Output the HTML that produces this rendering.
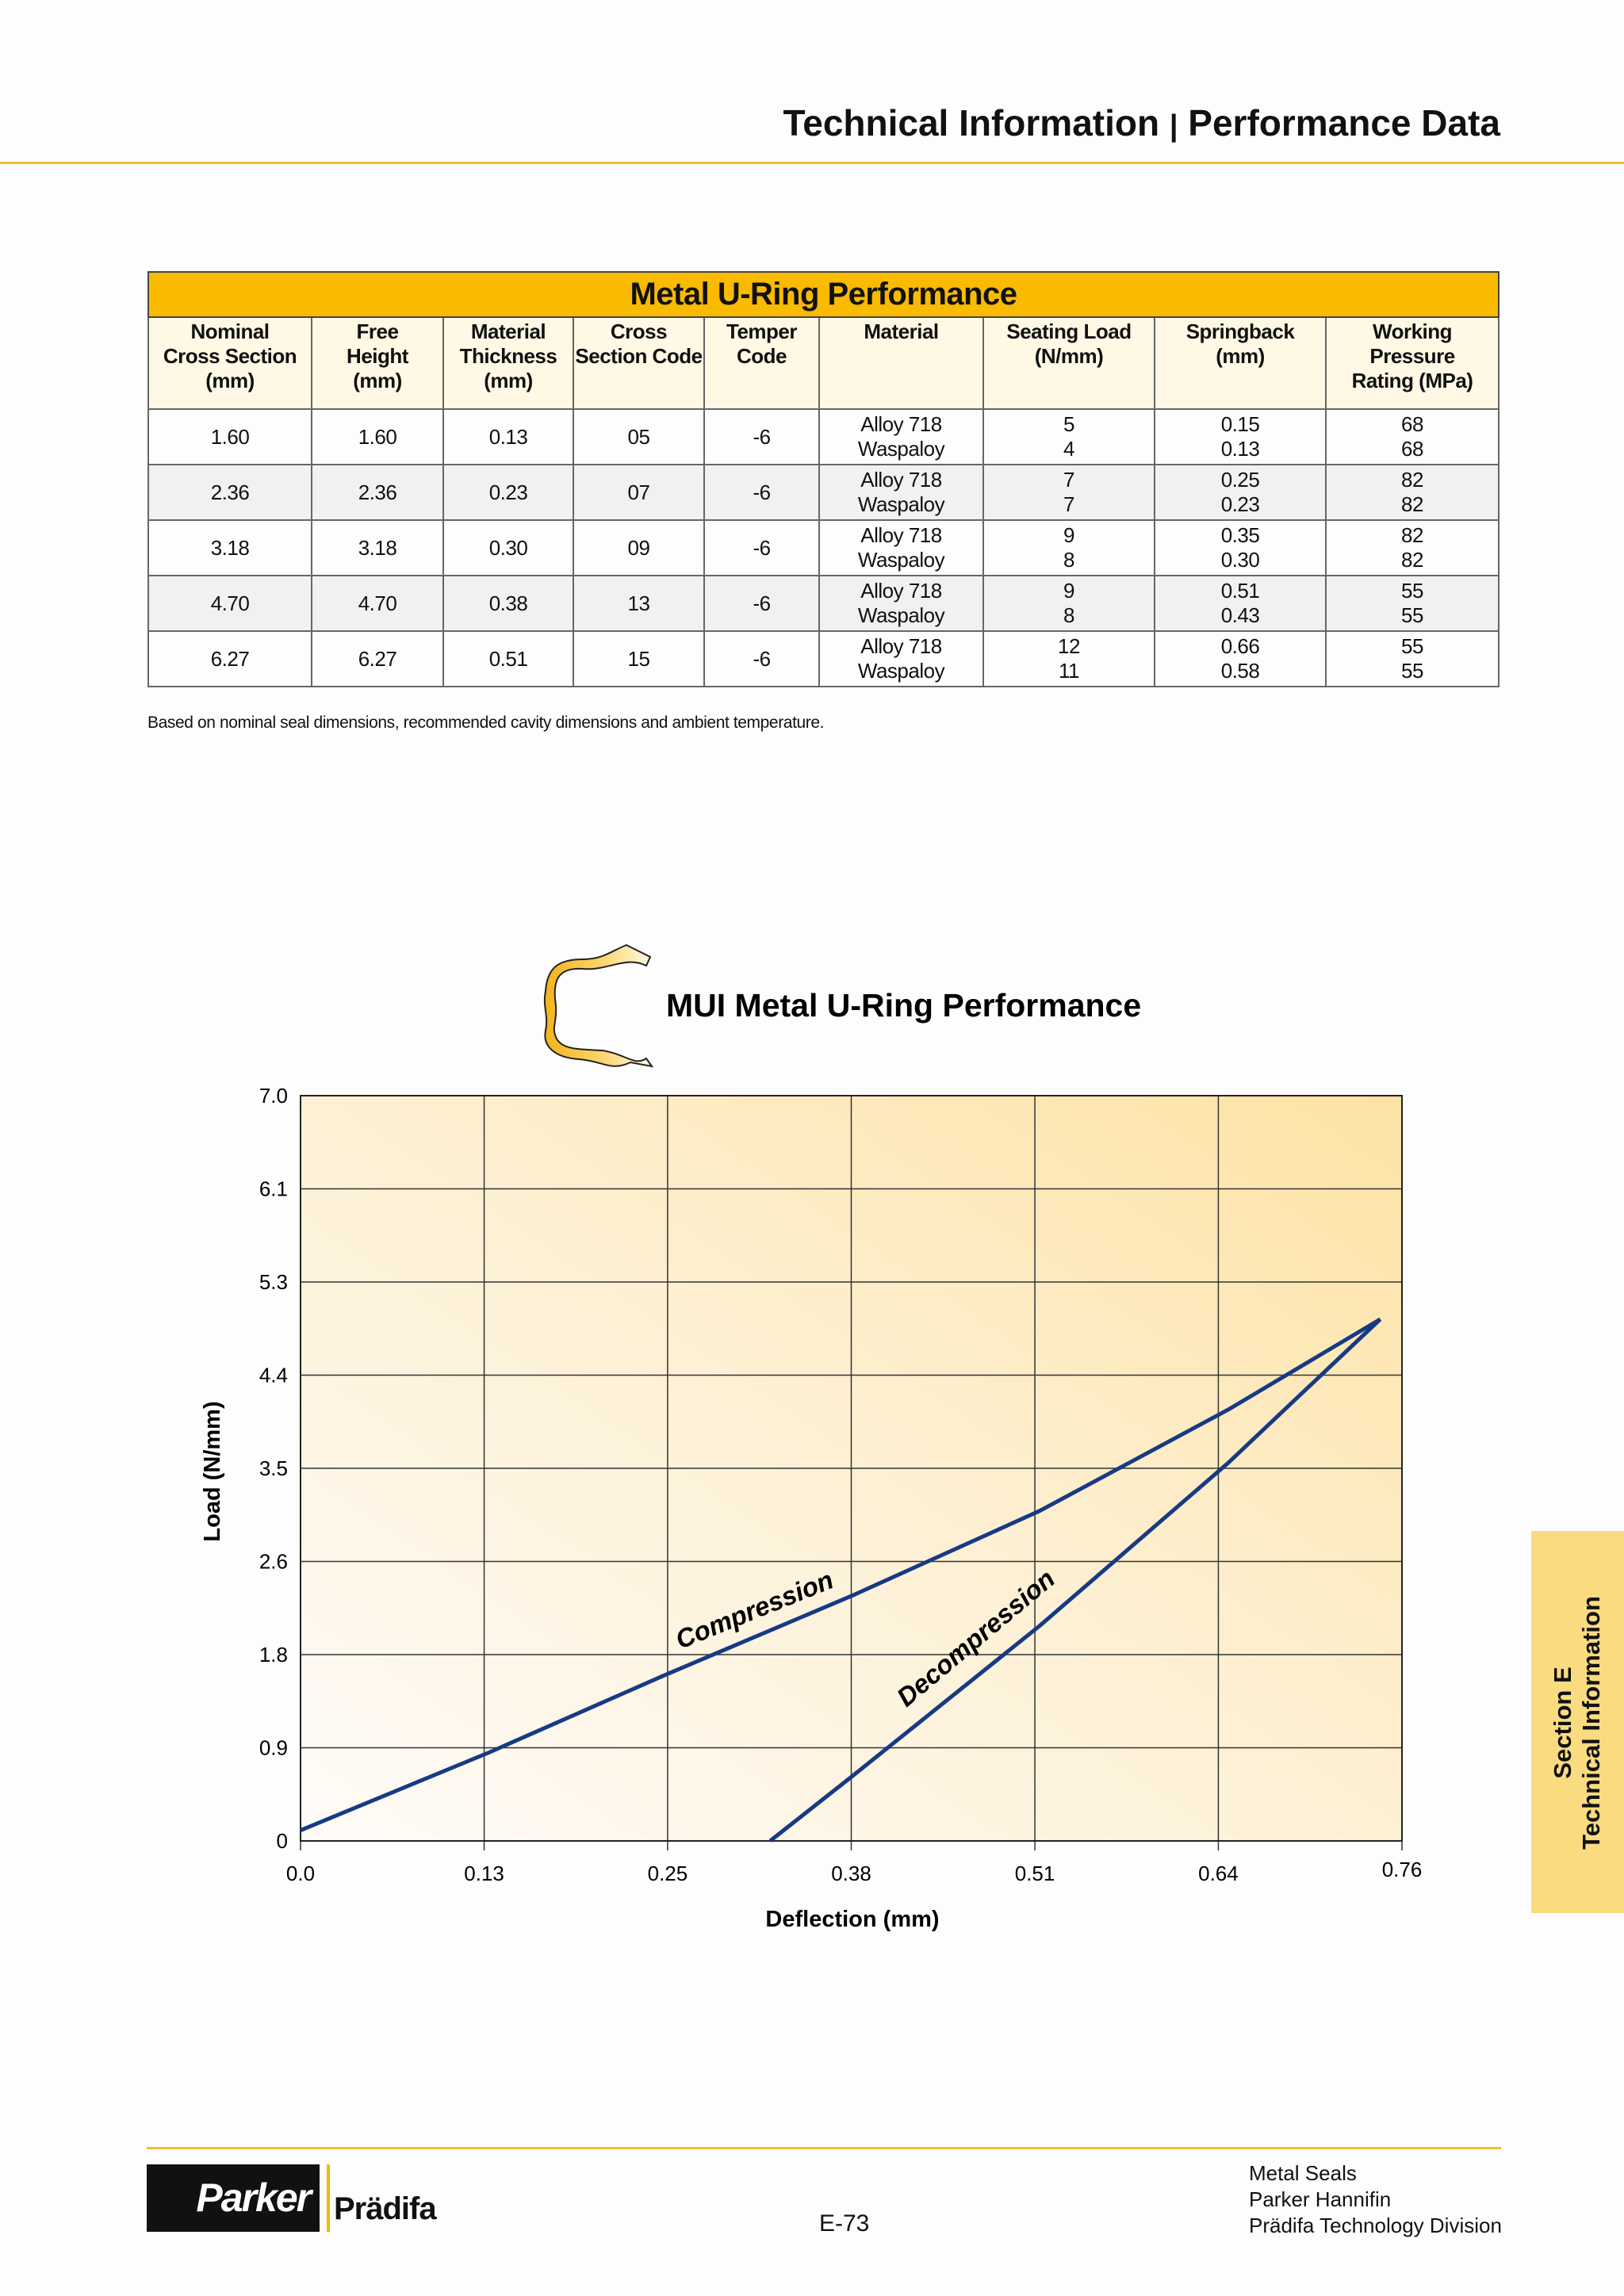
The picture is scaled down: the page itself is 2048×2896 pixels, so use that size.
<!DOCTYPE html>
<html><head><meta charset="utf-8">
<style>
html,body{margin:0;padding:0}
body{width:2048px;height:2896px;position:relative;background:#fdfdfd;font-family:"Liberation Sans",sans-serif;overflow:hidden;color:#111}
.abs{position:absolute}
table{border-collapse:collapse;position:absolute;left:186px;top:342px;width:1703px;table-layout:fixed}
td,th{border:2px solid #666;text-align:center;font-size:26px;padding:0;line-height:31px;letter-spacing:-0.5px}
th{font-weight:bold;vertical-align:top;background:#fff8e4;padding-top:2px;height:112px}
.title td{background:#f9ba00;font-size:40px;font-weight:bold;height:55px;border-color:#444;line-height:55px}
tbody tr.r td{height:68px}
tr.g td{background:#f2f1ef}
</style></head><body>
<div class="abs" style="right:156px;top:128px;font-size:46px;font-weight:bold;letter-spacing:0px">Technical Information <span style="font-size:38px">|</span> Performance Data</div>
<div class="abs" style="left:0;top:204px;width:2048px;height:3px;background:#f0c030"></div>

<table>
<colgroup><col style="width:206px"><col style="width:166px"><col style="width:164px"><col style="width:165px"><col style="width:145px"><col style="width:207px"><col style="width:216px"><col style="width:216px"><col style="width:218px"></colgroup>
<tr class="title"><td colspan="9">Metal U-Ring Performance</td></tr>
<tr><th>Nominal<br>Cross Section<br>(mm)</th><th>Free<br>Height<br>(mm)</th><th>Material<br>Thickness<br>(mm)</th><th>Cross<br>Section Code</th><th>Temper<br>Code</th><th>Material</th><th>Seating Load<br>(N/mm)</th><th>Springback<br>(mm)</th><th>Working<br>Pressure<br>Rating (MPa)</th></tr>
<tr class="r"><td>1.60</td><td>1.60</td><td>0.13</td><td>05</td><td>-6</td><td>Alloy 718<br>Waspaloy</td><td>5<br>4</td><td>0.15<br>0.13</td><td>68<br>68</td></tr>
<tr class="r g"><td>2.36</td><td>2.36</td><td>0.23</td><td>07</td><td>-6</td><td>Alloy 718<br>Waspaloy</td><td>7<br>7</td><td>0.25<br>0.23</td><td>82<br>82</td></tr>
<tr class="r"><td>3.18</td><td>3.18</td><td>0.30</td><td>09</td><td>-6</td><td>Alloy 718<br>Waspaloy</td><td>9<br>8</td><td>0.35<br>0.30</td><td>82<br>82</td></tr>
<tr class="r g"><td>4.70</td><td>4.70</td><td>0.38</td><td>13</td><td>-6</td><td>Alloy 718<br>Waspaloy</td><td>9<br>8</td><td>0.51<br>0.43</td><td>55<br>55</td></tr>
<tr class="r"><td>6.27</td><td>6.27</td><td>0.51</td><td>15</td><td>-6</td><td>Alloy 718<br>Waspaloy</td><td>12<br>11</td><td>0.66<br>0.58</td><td>55<br>55</td></tr>
</table>
<div class="abs" style="left:186px;top:900px;font-size:21px;letter-spacing:-0.4px">Based on nominal seal dimensions, recommended cavity dimensions and ambient temperature.</div>

<svg class="abs" style="left:0;top:0" width="2048" height="2896">
<defs>
<linearGradient id="bg" x1="0" y1="1" x2="1" y2="0"><stop offset="0" stop-color="#fefbf8"/><stop offset="0.5" stop-color="#fdf0d4"/><stop offset="1" stop-color="#fde2a4"/></linearGradient>
<linearGradient id="ug" x1="0" y1="0" x2="1" y2="0"><stop offset="0" stop-color="#f3b31c"/><stop offset="0.5" stop-color="#fbd264"/><stop offset="1" stop-color="#fffbe8"/></linearGradient>
</defs>
<g>
<path d="M790,1192 L820,1207 L815,1218 C790,1205 765,1225 735,1222 C705,1220 698,1235 700,1260 C704,1285 696,1295 700,1305 C705,1325 730,1323 760,1325 C790,1330 800,1345 815,1335 L822,1345 L795,1340 C770,1352 760,1338 730,1336 C700,1334 684,1320 688,1300 C692,1280 684,1270 688,1250 C690,1220 705,1210 735,1210 C760,1210 770,1200 790,1192 Z" fill="url(#ug)" stroke="#222" stroke-width="2"/>
</g>
<text x="840" y="1282" font-size="41" font-weight="bold">MUI Metal U-Ring Performance</text>
<rect x="379" y="1382" width="1389" height="940" fill="url(#bg)"/>
<g id="grid"></g>
<g id="marks"></g>
<text x="277" y="1856" font-size="29" font-weight="bold" text-anchor="middle" transform="rotate(-90 277 1856)">Load (N/mm)</text>
<text x="1075" y="2430" font-size="29" font-weight="bold" text-anchor="middle">Deflection (mm)</text>
</svg>

<div class="abs" style="left:1931px;top:1931px;width:117px;height:482px;background:#fadb7f"></div>
<div class="abs" style="left:1989px;top:2173px;transform:translate(-50%,-50%) rotate(-90deg);font-size:31px;font-weight:bold;text-align:center;line-height:36px;white-space:nowrap">Section E<br>Technical Information</div>

<div class="abs" style="left:185px;top:2708px;width:1708px;height:3px;background:#f0c030"></div>
<div class="abs" style="left:185px;top:2730px;width:218px;height:85px;background:#111;color:#fff;font-size:50px;font-weight:bold;font-style:italic;line-height:85px;text-align:right;box-sizing:border-box;letter-spacing:-2px">Parker&nbsp;</div>
<div class="abs" style="left:412px;top:2730px;width:4px;height:85px;background:#f0b800"></div>
<div class="abs" style="left:421px;top:2764px;font-size:40px;font-weight:bold;letter-spacing:-1px">Prädifa</div>
<div class="abs" style="left:1033px;top:2788px;font-size:30px">E-73</div>
<div class="abs" style="left:1575px;top:2725px;font-size:26px;line-height:33px">Metal Seals<br>Parker Hannifin<br>Prädifa Technology Division</div>

<script>
const yTicks = [0, 0.875, 1.75, 2.625, 3.5, 4.375, 5.25, 6.125, 7.0];
const yTickLabels = ["0","0.9","1.8","2.6","3.5","4.4","5.3","6.1","7.0"];
const xTicks = [0, 0.1267, 0.2533, 0.38, 0.5067, 0.6333, 0.76];
const xTickLabels = ["0.0","0.13","0.25","0.38","0.51","0.64","0.76"];
const compX = [0, 0.13, 0.25, 0.38, 0.51, 0.64, 0.745];
const compY = [0.1, 0.83, 1.55, 2.3, 3.1, 4.05, 4.9];
const decompX = [0.324, 0.38, 0.51, 0.64, 0.745];
const decompY = [0, 0.6, 2.02, 3.55, 4.9];

const L=379,R=1768,T=1382,B=2322;
const sx=v=>L+(v/0.76)*(R-L);
const sy=v=>B-(v/7)*(B-T);
const NS='http://www.w3.org/2000/svg';
const grid=document.getElementById('grid');
const marks=document.getElementById('marks');
function mk(tag,attrs,parent){const e=document.createElementNS(NS,tag);for(const k in attrs)e.setAttribute(k,attrs[k]);parent.appendChild(e);return e;}

yTicks.forEach((v,i)=>{
  const y=sy(v);
  const ln=mk('line',{x1:L,x2:R,y1:y,y2:y,stroke:'#333','stroke-width':1.5},grid);
  
  
  const t=mk('text',{x:L-16,y:y+9,'font-size':26,'text-anchor':'end'},grid);
  t.textContent=yTickLabels[i];
  
  
});
xTicks.forEach((v,i)=>{
  const x=sx(v);
  const ln=mk('line',{x1:x,x2:x,y1:T,y2:B+12,stroke:'#333','stroke-width':1.5},grid);
  
  
  const t=mk('text',{x:x,y:i==xTicks.length-1?B+45:B+50,'font-size':26,'text-anchor':'middle'},grid);
  t.textContent=xTickLabels[i];
  
  
});
mk('rect',{x:L,y:T,width:R-L,height:B-T,fill:'none',stroke:'#222','stroke-width':2},grid);

function line(xs,ys,name){
  const p=xs.map((x,i)=>sx(x).toFixed(1)+','+sy(ys[i]).toFixed(1)).join(' ');
  const e=mk('polyline',{points:p,fill:'none',stroke:'#173a84','stroke-width':5,'stroke-linejoin':'round'},marks);
  
  
}
line(compX,compY,'compression-line');
line(decompX,decompY,'decompression-line');

const c=mk('text',{x:sx(0.262),y:sy(1.8),'font-size':33,'font-weight':'bold','font-style':'italic',transform:`rotate(-22 ${sx(0.262)} ${sy(1.8)})`},marks);
c.textContent='Compression';


const d=mk('text',{x:sx(0.418),y:sy(1.25),'font-size':33,'font-weight':'bold','font-style':'italic',transform:`rotate(-40 ${sx(0.418)} ${sy(1.25)})`},marks);
d.textContent='Decompression';


</script>
</body></html>
